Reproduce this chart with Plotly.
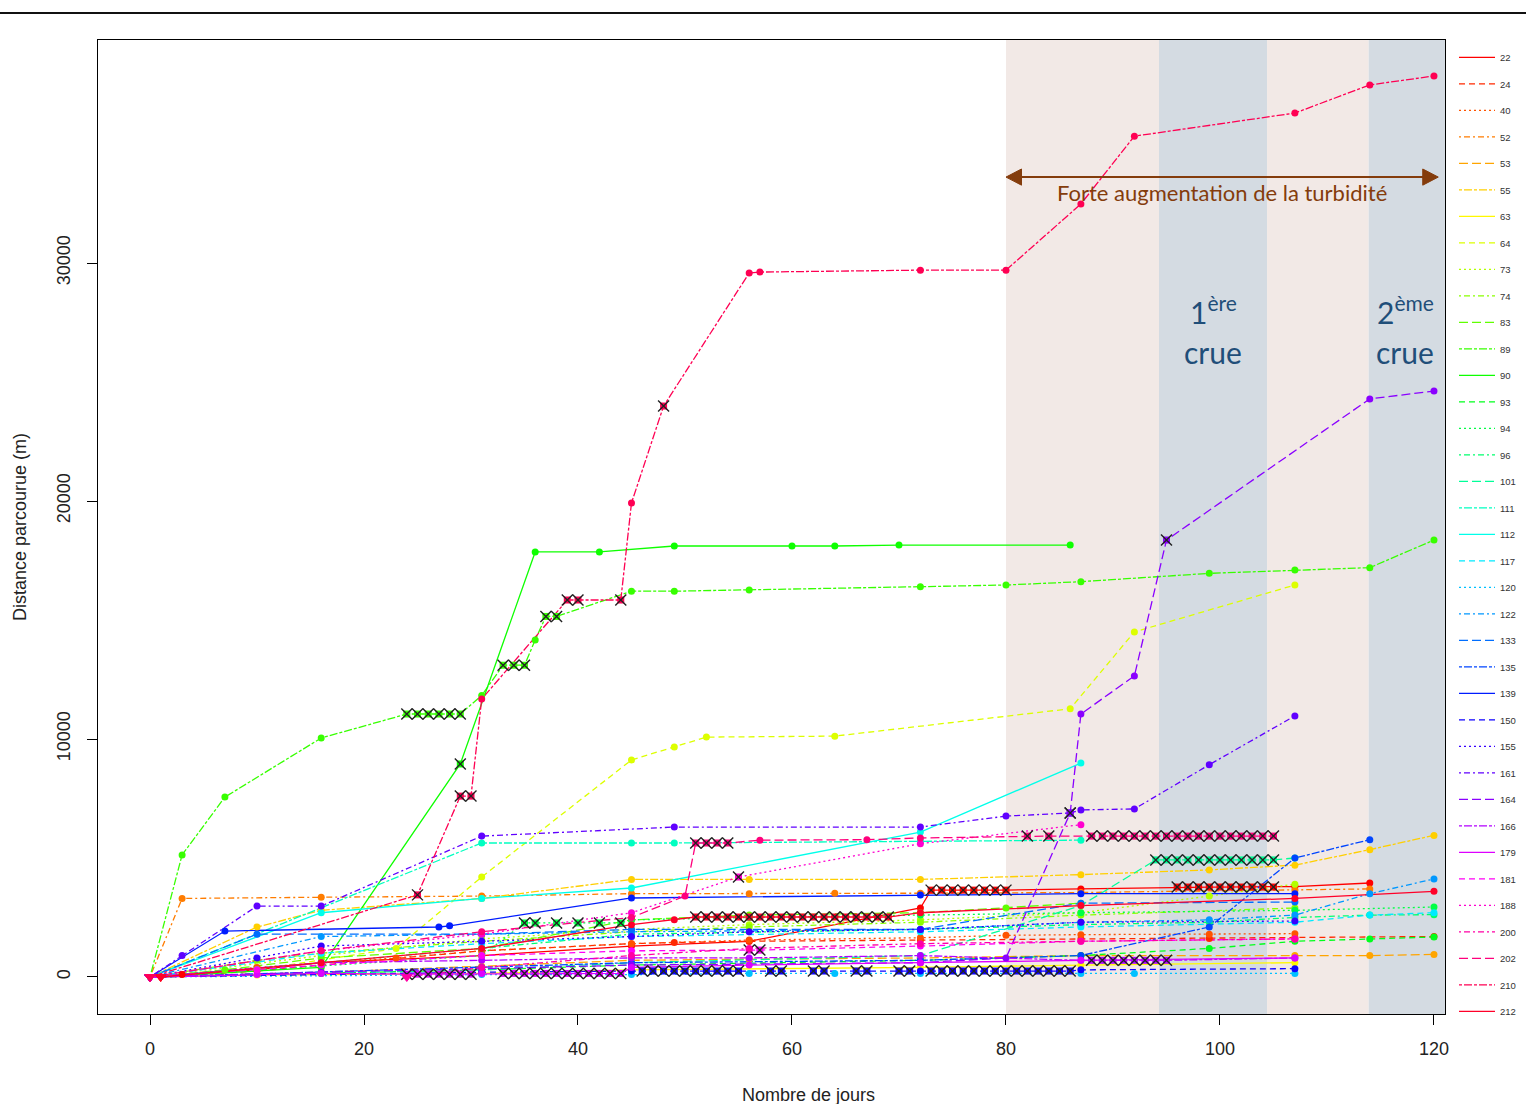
import colorsys
import plotly.graph_objects as go

# Identifiants des poissons suivis (ordre de la légende)
ids = [22, 24, 40, 52, 53, 55, 63, 64, 73, 74, 83, 89, 90, 93, 94, 96, 101, 111, 112,
       117, 120, 122, 133, 135, 139, 150, 155, 161, 164, 166, 179, 181, 188, 200, 202, 210, 212]

# Jours de détection (j_), distance cumulée en m (d_), détections marquées d'une croix (x_)
j_22 = [0, 3, 10, 16, 31, 45, 56, 72, 73, 74, 75, 76, 77, 78, 79, 80, 87, 96, 97, 98, 99, 100, 101, 102, 103, 104, 105, 107, 114]
d_22 = [0, 100, 300, 600, 900, 1300, 1500, 2900, 3650, 3650, 3650, 3650, 3650, 3650, 3650, 3650, 3700,
        3780, 3780, 3780, 3780, 3780, 3780, 3780, 3780, 3780, 3780, 3800, 3950]
x_22 = [73, 74, 75, 76, 77, 78, 79, 80, 96, 97, 98, 99, 100, 101, 102, 103, 104, 105]

j_24 = [1, 10, 16, 31, 45, 49, 56, 72, 87, 99, 107, 120]
d_24 = [0, 250, 500, 1100, 1400, 1450, 1500, 1550, 1600, 1620, 1650, 1700]
x_24 = []

j_40 = [0, 10, 23, 31, 45, 56, 72, 80, 87, 99, 107]
d_40 = [0, 400, 800, 1100, 1400, 1550, 1650, 1750, 1780, 1800, 1820]
x_40 = []

j_52 = [0, 3, 16, 31, 45, 56, 64, 72, 87, 107, 114]
d_52 = [0, 3300, 3350, 3400, 3500, 3500, 3520, 3520, 3550, 3650, 3700]
x_52 = []

j_53 = [0, 16, 31, 45, 56, 72, 87, 107, 114, 120]
d_53 = [0, 200, 450, 700, 750, 800, 900, 900, 900, 950]
x_53 = []

j_55 = [0, 10, 16, 31, 45, 56, 72, 87, 99, 107, 114, 120]
d_55 = [0, 2100, 2800, 3300, 4100, 4100, 4100, 4300, 4500, 4700, 5350, 5950]
x_55 = []

j_63 = [0, 10, 31, 45, 72, 87, 107]
d_63 = [0, 80, 150, 300, 400, 500, 600]
x_63 = []

j_64 = [0, 10, 23, 31, 45, 49, 52, 64, 86, 92, 107]
d_64 = [0, 300, 1200, 4200, 9120, 9660, 10080, 10120, 11270, 14500, 16470]
x_64 = []

j_73 = [0, 16, 31, 45, 56, 72, 87, 99, 107]
d_73 = [0, 900, 1600, 2000, 2200, 2400, 2700, 3400, 3900]
x_73 = []

j_74 = [0, 10, 16, 31, 45, 56, 72, 87, 107]
d_74 = [0, 700, 1000, 1500, 1900, 2100, 2300, 2600, 2900]
x_74 = []

j_83 = [0, 7, 16, 31, 45, 56, 72, 80, 87]
d_83 = [0, 300, 800, 1200, 2400, 2600, 2700, 2900, 3100]
x_83 = []

j_89 = [0, 3, 7, 16, 24, 25, 26, 27, 28, 29, 31, 33, 34, 35, 36, 37, 38, 45, 49, 56, 72, 80, 87, 99, 107, 114, 120]
d_89 = [0, 5130, 7560, 10040, 11050, 11050, 11050, 11050, 11050, 11050, 11830, 13100, 13100, 13100, 14160,
        15150, 15150, 16210, 16210, 16260, 16400, 16470, 16610, 16960, 17100, 17200, 18360]
x_89 = [24, 25, 26, 27, 28, 29, 33, 34, 35, 37, 38]

j_90 = [0, 16, 29, 36, 42, 49, 60, 64, 70, 86]
d_90 = [0, 400, 8950, 17860, 17860, 18110, 18110, 18110, 18150, 18150]
x_90 = [29]

j_93 = [0, 16, 31, 45, 72, 87, 99, 107, 114, 120]
d_93 = [0, 150, 300, 500, 700, 900, 1200, 1500, 1600, 1680]
x_93 = []

j_94 = [0, 10, 31, 35, 36, 38, 40, 42, 44, 45, 56, 72, 87, 107, 120]
d_94 = [0, 300, 900, 2270, 2270, 2270, 2270, 2270, 2270, 2400, 2500, 2600, 2700, 2800, 2940]
x_94 = [35, 36, 38, 40, 42, 44]

j_96 = [0, 16, 31, 45, 72, 87, 99, 107, 114, 120]
d_96 = [0, 600, 1200, 1800, 2000, 2200, 2300, 2500, 2600, 2620]
x_96 = []

j_101 = [0, 31, 45, 72, 87, 94, 95, 96, 97, 98, 99, 100, 101, 102, 103, 104, 105, 107]
d_101 = [0, 300, 600, 900, 3000, 4920, 4920, 4920, 4920, 4920, 4920, 4920, 4920, 4920, 4920, 4920, 4920, 5000]
x_101 = [94, 95, 96, 97, 98, 99, 100, 101, 102, 103, 104, 105]

j_111 = [0, 31, 45, 49, 72, 87]
d_111 = [0, 5630, 5630, 5630, 5700, 5750]
x_111 = []

j_112 = [0, 16, 31, 45, 72, 87]
d_112 = [0, 2700, 3300, 3740, 6090, 8990]
x_112 = []

j_117 = [0, 16, 31, 45, 72, 87, 107, 114, 120]
d_117 = [0, 1000, 1400, 1700, 1900, 2100, 2300, 2600, 2700]
x_117 = []

j_120 = [0, 31, 45, 56, 64, 72, 87, 92, 107]
d_120 = [0, 100, 100, 150, 150, 150, 150, 150, 150]
x_120 = []

j_122 = [0, 16, 31, 45, 72, 87, 99, 107, 114, 120]
d_122 = [0, 1700, 1800, 1900, 2000, 2300, 2400, 2600, 3500, 4120]
x_122 = []

j_133 = [0, 10, 31, 45, 72, 87, 107]
d_133 = [0, 1800, 1800, 2000, 2000, 3100, 3150]
x_133 = []

j_135 = [0, 31, 45, 72, 87, 99, 107, 114]
d_135 = [0, 400, 600, 700, 900, 2100, 5000, 5770]
x_135 = []

j_139 = [0, 7, 27, 28, 45, 72, 87, 107]
d_139 = [0, 1930, 2100, 2150, 3320, 3440, 3500, 3500]
x_139 = []

j_150 = [0, 31, 45, 46, 47, 48, 49, 50, 51, 52, 53, 54, 55, 58, 59, 62, 63, 66, 67, 70, 71,
         72, 73, 74, 75, 76, 77, 78, 79, 80, 81, 82, 83, 84, 85, 86, 87, 107]
d_150 = [0, 200, 250, 250, 250, 250, 250, 250, 250, 250, 250, 250, 250, 250, 250, 250, 250, 250, 250, 250, 250,
         250, 250, 250, 250, 250, 250, 250, 250, 250, 250, 250, 250, 250, 250, 250, 300, 350]
x_150 = [46, 47, 48, 49, 50, 51, 52, 53, 54, 55, 58, 59, 62, 63, 66, 67, 70, 71,
         73, 74, 75, 76, 77, 78, 79, 80, 81, 82, 83, 84, 85, 86]

j_155 = [0, 10, 16, 31, 45, 56, 72, 87, 107]
d_155 = [0, 800, 1300, 1500, 1700, 1900, 2000, 2300, 2350]
x_155 = []

j_161 = [0, 3, 10, 16, 31, 49, 72, 80, 86, 87, 92, 99, 107]
d_161 = [0, 900, 2980, 2980, 5920, 6300, 6300, 6760, 6890, 7020, 7060, 8920, 10970]
x_161 = [86]

j_164 = [0, 16, 31, 45, 72, 80, 86, 87, 92, 95, 114, 120]
d_164 = [0, 200, 350, 500, 600, 800, 6890, 11050, 12650, 18360, 24290, 24620]
x_164 = [86, 95]

j_166 = [0, 16, 31, 45, 56, 72, 87, 88, 89, 90, 91, 92, 93, 94, 95, 107]
d_166 = [0, 600, 700, 800, 800, 900, 700, 700, 700, 700, 700, 700, 700, 700, 700, 800]
x_166 = [88, 89, 90, 91, 92, 93, 94, 95]

j_179 = [0, 10, 16, 24, 25, 26, 27, 28, 29, 30, 31, 33, 34, 35, 36, 37, 38, 39, 40, 41, 42, 43, 44, 45, 56, 72, 87, 107]
d_179 = [0, 100, 150, 120, 120, 120, 120, 120, 120, 120, 150, 150, 150, 150, 150, 150, 150, 150, 150, 150, 150,
         150, 150, 400, 500, 600, 700, 800]
x_179 = [24, 25, 26, 27, 28, 29, 30, 33, 34, 35, 36, 37, 38, 39, 40, 41, 42, 43, 44]

j_181 = [0, 10, 16, 31, 45, 56, 57, 72, 87, 107]
d_181 = [0, 300, 500, 900, 1100, 1130, 1130, 1300, 1500, 1600]
x_181 = [56, 57]

j_188 = [0, 16, 31, 45, 55, 72, 87]
d_188 = [0, 1100, 1800, 2700, 4200, 5600, 6400]
x_188 = [55]

j_200 = [24, 31, 45, 56, 72, 87, 107]
d_200 = [0, 400, 900, 1200, 1400, 1500, 1600]
x_200 = []

j_202 = [0, 16, 31, 45, 50, 51, 52, 53, 54, 57, 67, 72, 82, 84, 88, 89, 90, 91, 92, 93, 94, 95, 96, 97, 98, 99,
         100, 101, 102, 103, 104, 105]
d_202 = [0, 1100, 1900, 2500, 3400, 5630, 5630, 5630, 5630, 5750, 5770, 5840, 5920, 5920, 5920, 5920, 5920, 5920,
         5920, 5920, 5920, 5920, 5920, 5920, 5920, 5920, 5920, 5920, 5920, 5920, 5920, 5920]
x_202 = [51, 52, 53, 54, 82, 84, 88, 89, 90, 91, 92, 93, 94, 95, 96, 97, 98, 99, 100, 101, 102, 103, 104, 105]

j_210 = [0, 25, 29, 30, 31, 39, 40, 44, 45, 48, 56, 57, 72, 80, 87, 92, 107, 114, 120]
d_210 = [0, 3450, 7600, 7600, 11680, 15840, 15840, 15840, 19920, 23990, 29580, 29620, 29700, 29700,
         32480, 35330, 36300, 37480, 37860]
x_210 = [25, 29, 30, 39, 40, 44, 48]

j_212 = [1, 16, 31, 45, 49, 51, 52, 53, 54, 55, 56, 57, 58, 59, 60, 61, 62, 63, 64, 65, 66, 67, 68, 69, 72, 87, 107, 120]
d_212 = [0, 600, 1200, 2200, 2400, 2520, 2520, 2520, 2520, 2520, 2520, 2520, 2520, 2520, 2520, 2520, 2520, 2520,
         2520, 2520, 2520, 2520, 2520, 2520, 2700, 3000, 3300, 3600]
x_212 = [51, 52, 53, 54, 55, 56, 57, 58, 59, 60, 61, 62, 63, 64, 65, 66, 67, 68, 69]

poissons = [
    (22, j_22, d_22, x_22), (24, j_24, d_24, x_24), (40, j_40, d_40, x_40), (52, j_52, d_52, x_52),
    (53, j_53, d_53, x_53), (55, j_55, d_55, x_55), (63, j_63, d_63, x_63), (64, j_64, d_64, x_64),
    (73, j_73, d_73, x_73), (74, j_74, d_74, x_74), (83, j_83, d_83, x_83), (89, j_89, d_89, x_89),
    (90, j_90, d_90, x_90), (93, j_93, d_93, x_93), (94, j_94, d_94, x_94), (96, j_96, d_96, x_96),
    (101, j_101, d_101, x_101), (111, j_111, d_111, x_111), (112, j_112, d_112, x_112),
    (117, j_117, d_117, x_117), (120, j_120, d_120, x_120), (122, j_122, d_122, x_122),
    (133, j_133, d_133, x_133), (135, j_135, d_135, x_135), (139, j_139, d_139, x_139),
    (150, j_150, d_150, x_150), (155, j_155, d_155, x_155), (161, j_161, d_161, x_161),
    (164, j_164, d_164, x_164), (166, j_166, d_166, x_166), (179, j_179, d_179, x_179),
    (181, j_181, d_181, x_181), (188, j_188, d_188, x_188), (200, j_200, d_200, x_200),
    (202, j_202, d_202, x_202), (210, j_210, d_210, x_210), (212, j_212, d_212, x_212),
]

# Palette arc-en-ciel et types de trait cycliques (plein, tirets, pointillés, ...)
n = len(ids)
couleurs = {}
for i, pid in enumerate(ids):
    r, g, b = colorsys.hsv_to_rgb(i / n, 1, 1)
    couleurs[pid] = "#%02x%02x%02x" % (round(r * 255), round(g * 255), round(b * 255))
traits = ["solid", "6px,4px", "2px,3px", "2px,3px,6px,3px", "9px,4px", "3px,2px,8px,2px"]

fig = go.Figure()

# Tracés (apparaissent dans la légende)
for i, (pid, jj, dd, xx) in enumerate(poissons):
    fig.add_trace(go.Scatter(
        x=jj, y=dd, mode="lines", name=str(pid), legendgroup=str(pid),
        line=dict(color=couleurs[pid], width=1.3, dash=traits[i % 6]),
        hoverinfo="skip",
    ))

# Points de détection
for pid, jj, dd, xx in poissons:
    c = couleurs[pid]
    pts = [(a, b) for k, (a, b) in enumerate(zip(jj, dd)) if k > 0 and a not in xx]
    if pts:
        fig.add_trace(go.Scatter(
            x=[p[0] for p in pts], y=[p[1] for p in pts], mode="markers", showlegend=False,
            marker=dict(symbol="circle", size=7, color=c, line=dict(width=0)), hoverinfo="skip",
        ))
    fig.add_trace(go.Scatter(
        x=[jj[0]], y=[dd[0]], mode="markers", showlegend=False,
        marker=dict(symbol="triangle-down", size=9, color=c, line=dict(width=1, color=c)),
        hoverinfo="skip",
    ))
    crx = [(a, b) for k, (a, b) in enumerate(zip(jj, dd)) if k > 0 and a in xx]
    if crx:
        fig.add_trace(go.Scatter(
            x=[p[0] for p in crx], y=[p[1] for p in crx], mode="markers", showlegend=False,
            marker=dict(symbol="square", size=7, color=c, line=dict(width=0)), hoverinfo="skip",
        ))
        fig.add_trace(go.Scatter(
            x=[p[0] for p in crx], y=[p[1] for p in crx], mode="markers", showlegend=False,
            marker=dict(symbol="x-thin-open", size=11, color="#222222", line=dict(width=1.4, color="#222222")),
            hoverinfo="skip",
        ))

# Périodes de turbidité et de crue
beige = "#f2e9e6"
gris_bleu = "#d4dbe2"
periodes = [(80, 94.3, beige), (94.3, 104.4, gris_bleu), (104.4, 113.9, beige), (113.9, 121.03, gris_bleu)]
shapes = [dict(type="rect", xref="x", yref="paper", x0=a, x1=b, y0=0, y1=1,
               fillcolor=c, line=dict(width=0), layer="below") for a, b, c in periodes]
shapes.append(dict(type="line", xref="paper", yref="paper", x0=-0.08, x1=1.07, y0=1.0277, y1=1.0277,
                   line=dict(color="#111111", width=2)))

# Double flèche de la période de forte turbidité
brun = "#843c0c"
fleche_debut, fleche_fin, fleche_y = 80.0, 120.4, 33610
shapes.append(dict(type="line", xref="x", yref="y", x0=fleche_debut + 1.0, x1=fleche_fin - 1.0,
                   y0=fleche_y, y1=fleche_y, line=dict(color=brun, width=2)))
shapes.append(dict(type="path", xref="x", yref="y", fillcolor=brun, line=dict(color=brun, width=1),
                   path=f"M {fleche_debut},{fleche_y} L {fleche_debut + 1.45},{fleche_y + 340} "
                        f"L {fleche_debut + 1.45},{fleche_y - 340} Z"))
shapes.append(dict(type="path", xref="x", yref="y", fillcolor=brun, line=dict(color=brun, width=1),
                   path=f"M {fleche_fin},{fleche_y} L {fleche_fin - 1.45},{fleche_y + 340} "
                        f"L {fleche_fin - 1.45},{fleche_y - 340} Z"))

police = "Liberation Sans, Arial, sans-serif"
bleu_fonce = "#1f4e79"

annotations = [
    dict(x=100.2, y=32980, xref="x", yref="y", text="Forte augmentation de la turbidité",
         showarrow=False, font=dict(family="Lato, sans-serif", size=22, color=brun)),
    dict(x=99.35, y=28030, xref="x", yref="y", text="1<sup>ère</sup>", showarrow=False,
         font=dict(family="Lato, sans-serif", size=30, color=bleu_fonce)),
    dict(x=99.35, y=26260, xref="x", yref="y", text="crue", showarrow=False,
         font=dict(family="Lato, sans-serif", size=30, color=bleu_fonce)),
    dict(x=117.3, y=28030, xref="x", yref="y", text="2<sup>ème</sup>", showarrow=False,
         font=dict(family="Lato, sans-serif", size=30, color=bleu_fonce)),
    dict(x=117.3, y=26260, xref="x", yref="y", text="crue", showarrow=False,
         font=dict(family="Lato, sans-serif", size=30, color=bleu_fonce)),
    dict(x=(808 - 98) / 1347, y=(1014 - 1095) / 974, xref="paper", yref="paper",
         xanchor="center", yanchor="middle",
         text="Nombre de jours", showarrow=False, font=dict(family=police, size=18, color="#222222")),
    dict(x=(20 - 98) / 1347, y=(1014 - 527) / 974, xref="paper", yref="paper", textangle=-90,
         xanchor="center", yanchor="middle",
         text="Distance parcourue (m)", showarrow=False, font=dict(family=police, size=18, color="#222222")),
]

axe = dict(showgrid=False, zeroline=False, showline=True, mirror=True, linecolor="#000000", linewidth=1,
           ticks="outside", ticklen=10, tickwidth=1, tickcolor="#000000",
           tickfont=dict(family=police, size=18, color="#222222"))

graduations_y = [0, 10000, 20000, 30000]
graduations_x = [0, 20, 40, 60, 80, 100, 120]

fig.update_layout(
    width=1526, height=1104,
    margin=dict(l=98, r=81, t=40, b=90, autoexpand=False),
    paper_bgcolor="white", plot_bgcolor="white",
    xaxis=dict(range=[-4.86, 121.03], tickvals=graduations_x, ticktext=[str(v) for v in graduations_x],
               ticklabelstandoff=8, **axe),
    yaxis=dict(range=[-1555, 39370], tickvals=graduations_y, ticktext=[str(v) for v in graduations_y],
               tickangle=-90, ticklabelstandoff=10, **axe),
    legend=dict(x=(1454 - 98) / 1347, xanchor="left", y=0.997, yanchor="top", bgcolor="rgba(0,0,0,0)",
                font=dict(family=police, size=9.5, color="#333333"), tracegroupgap=7.5,
                itemwidth=36, maxheight=1100),
    shapes=shapes,
    annotations=annotations,
    showlegend=True,
)

fig.write_html("out.html")
